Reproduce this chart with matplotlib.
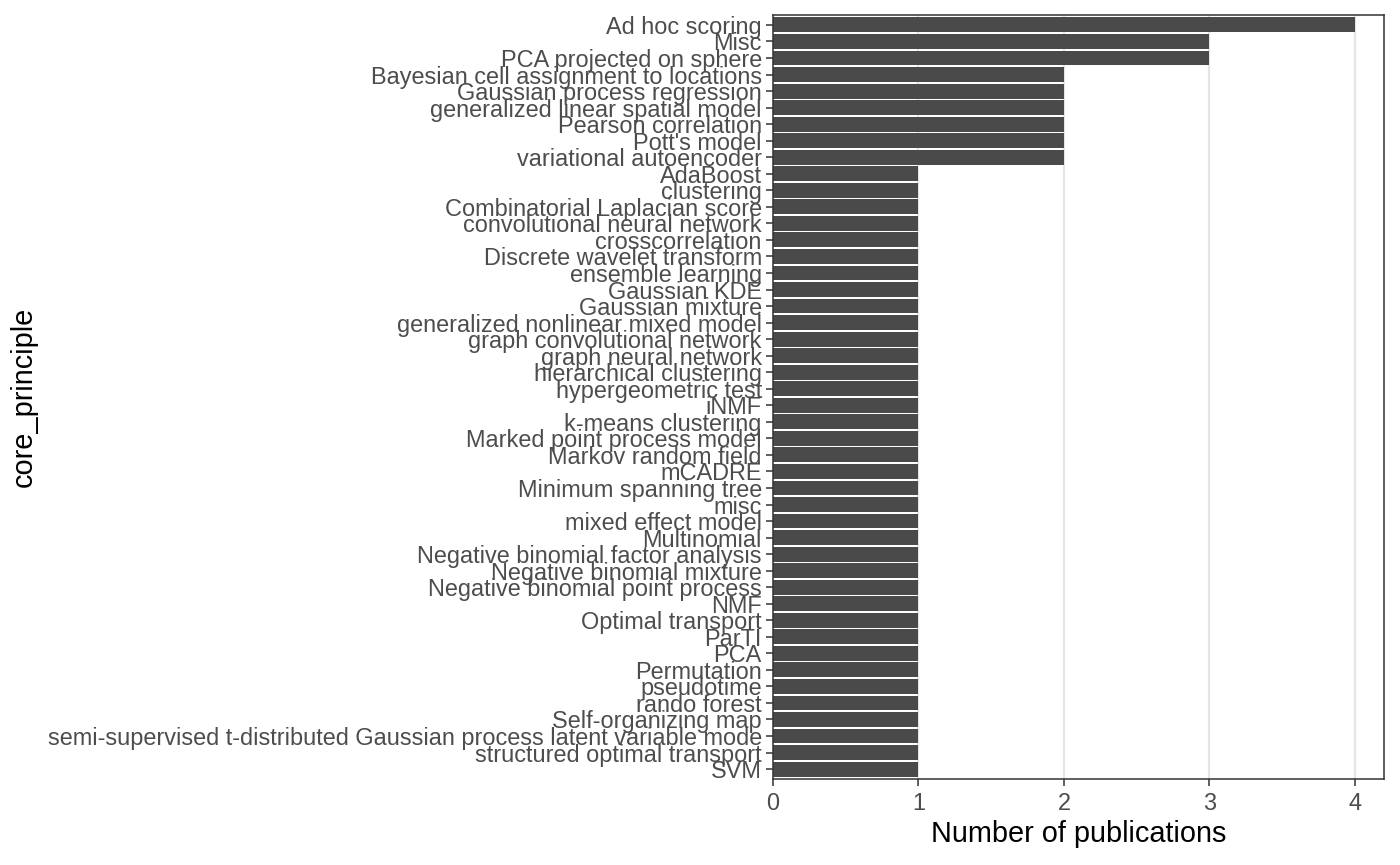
import numpy as np
import matplotlib
matplotlib.use('Agg')
import matplotlib.pyplot as plt

# core principles, top to bottom, and publication counts
principles = [
    'Ad hoc scoring', 'Misc', 'PCA projected on sphere',
    'Bayesian cell assignment to locations', 'Gaussian process regression',
    'generalized linear spatial model', 'Pearson correlation', "Pott's model",
    'variational autoencoder', 'AdaBoost', 'clustering',
    'Combinatorial Laplacian score', 'convolutional neural network',
    'crosscorrelation', 'Discrete wavelet transform', 'ensemble learning',
    'Gaussian KDE', 'Gaussian mixture', 'generalized nonlinear mixed model',
    'graph convolutional network', 'graph neural network',
    'hierarchical clustering', 'hypergeometric test', 'iNMF',
    'k-means clustering', 'Marked point process model', 'Markov random field',
    'mCADRE', 'Minimum spanning tree', 'misc', 'mixed effect model',
    'Multinomial', 'Negative binomial factor analysis',
    'Negative binomial mixture', 'Negative binomial point process', 'NMF',
    'Optimal transport', 'ParTI', 'PCA', 'Permutation', 'pseudotime',
    'rando forest', 'Self-organizing map',
    'semi-supervised t-distributed Gaussian process latent variable mode',
    'structured optimal transport', 'SVM',
]
n_pubs = [4, 3, 3, 2, 2, 2, 2, 2, 2] + [1] * 37

x_ticks = [0, 1, 2, 3, 4]

plt.rcParams['font.family'] = ['Liberation Sans', 'DejaVu Sans']

fig = plt.figure(figsize=(14, 8.65), dpi=100)
ax = fig.add_axes([0.5521, 0.0994, 0.98857 - 0.5521, 0.98266 - 0.0994])

pos = np.arange(len(principles))
ax.barh(pos, n_pubs, height=0.9, color='#4A4A4A', zorder=2)

for x in x_ticks[1:]:
    ax.axvline(x, color='#E5E5E5', linewidth=1.6, zorder=1)

ax.set_xlim(0, 4.2)
ax.set_ylim(len(principles) - 0.4, -0.6)
ax.set_xticks(x_ticks)
ax.set_yticks(pos)
ax.set_yticklabels(principles)

ax.tick_params(axis='both', colors='#333333', width=1.1, length=5,
               labelsize=16.9, labelcolor='#4D4D4D', pad=3)
ax.tick_params(axis='x', pad=4)
for s in ax.spines.values():
    s.set_color('#333333')
    s.set_linewidth(1.1)

ax.set_xlabel('Number of publications', fontsize=20.8, color='black', labelpad=4)
ax.set_ylabel('core_principle', fontsize=20.8, color='black')
ax.yaxis.set_label_coords(-1.203, 0.5)

fig.savefig('out.png', dpi=100)
